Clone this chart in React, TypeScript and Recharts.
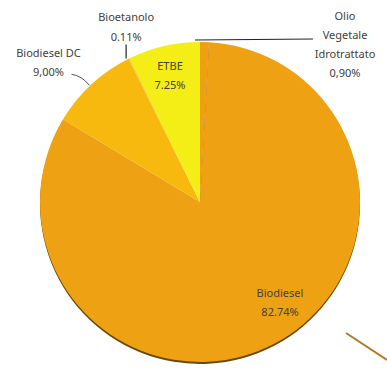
import { PieChart, Pie, Cell } from 'recharts'

// fuel shares (%), clockwise from 12 o'clock
const fuels = ['Olio Vegetale Idrotrattato', 'Biodiesel', 'Biodiesel DC', 'Bioetanolo', 'ETBE']
const shares = [0.9, 82.74, 9.0, 0.11, 7.25]
const shareText = ['0,90%', '82.74%', '9,00%', '0.11%', '7.25%']
const labelLines = [['Olio', 'Vegetale', 'Idrotrattato'], ['Biodiesel'], ['Biodiesel DC'], ['Bioetanolo'], ['ETBE']]
const colors = ['#EEA013', '#EFA114', '#F8B90F', '#F9C80C', '#F4EE16']

const data = fuels.map((name, i) => ({ name, value: shares[i] }))

const RAD = Math.PI / 180
const textColor = '#454038'

function renderLabel(props: any) {
  const { cx, cy, midAngle, outerRadius, index } = props
  const px = cx + outerRadius * Math.cos(-midAngle * RAD)
  const py = cy + outerRadius * Math.sin(-midAngle * RAD)
  const lines = [...labelLines[index], shareText[index]]
  let tx = 0
  let ty = 0
  let leader: any = null
  if (index === 0) {
    tx = cx + 145
    ty = cy - 187
    const ly = cy - outerRadius - 2
    leader = <path d={`M${cx - 5},${ly} L${cx + 113},${ly - 1}`} stroke="#222" strokeWidth={1.2} fill="none" />
  } else if (index === 1) {
    tx = cx + 80
    ty = cy + 90
  } else if (index === 2) {
    tx = px - 43
    ty = py - 32
    leader = <path d={`M${px - 2},${py + 1} Q${px - 10},${py - 9} ${px - 20},${py - 10}`} stroke="#555" strokeWidth={1} fill="none" />
  } else if (index === 3) {
    tx = px - 3
    ty = py - 42
    leader = <path d={`M${px - 3},${py} L${px - 3},${py - 14}`} stroke="#222" strokeWidth={1.2} fill="none" />
  } else {
    tx = cx - 30
    ty = cy - 137
  }
  const step = lines.length > 2 ? 19.3 : 19.5
  return (
    <g>
      {leader}
      <text x={tx} y={ty} textAnchor="middle" fill={textColor} fontSize={11} fontFamily="Noto Sans">
        {lines.map((l, k) => (
          <tspan key={k} x={tx} y={ty + k * step} dominantBaseline="central">{l}</tspan>
        ))}
      </text>
    </g>
  )
}

export default function App() {
  return (
    <div style={{ position: 'absolute', left: 0, top: 0, width: 387, height: 372, background: '#fff' }}>
      <PieChart width={387} height={372} margin={{ top: 0, right: 0, bottom: 0, left: 0 }}>
        <Pie
          data={data}
          dataKey="value"
          nameKey="name"
          cx={200}
          cy={202}
          outerRadius={160}
          startAngle={90}
          endAngle={-270}
          stroke="none"
          label={renderLabel}
          labelLine={false}
          isAnimationActive={false}
        >
          {data.map((d, i) => (
            <Cell
              key={d.name}
              fill={colors[i]}
              style={i === 1 ? { filter: 'drop-shadow(0px 2px 0px #6a4800)' } : undefined}
            />
          ))}
        </Pie>
      </PieChart>
      <svg width={387} height={372} style={{ position: 'absolute', left: 0, top: 0, pointerEvents: 'none' }}>
        <line x1={346} y1={333} x2={387} y2={360} stroke="#B07A22" strokeWidth={2} />
      </svg>
    </div>
  )
}
